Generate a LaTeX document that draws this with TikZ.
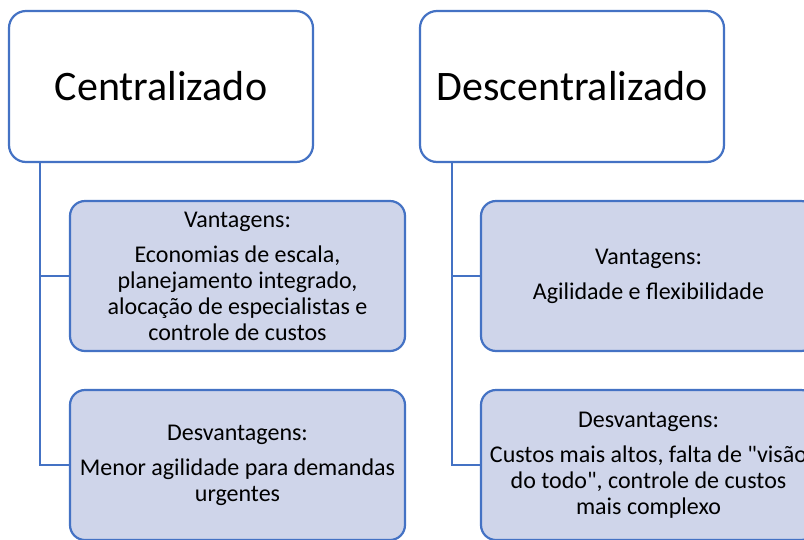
\documentclass[tikz,border=0pt]{standalone}
\usepackage{fontspec}
\setmainfont{Carlito}
\definecolor{boxblue}{RGB}{68,114,196}
\definecolor{boxfill}{RGB}{207,213,234}
\tikzset{
	head/.style={draw=boxblue,line width=2.2pt,rounded corners=17pt,fill=white,minimum width=304pt,minimum height=151pt,font=\fontsize{42}{50}\selectfont},
	item/.style={draw=boxblue,line width=2.2pt,rounded corners=15pt,fill=boxfill,minimum width=335pt,minimum height=150pt,align=center,font=\fontsize{24}{26}\selectfont},
	link/.style={draw=boxblue,line width=2.2pt}
}

\begin{document}
\begin{tikzpicture}[x=1pt,y=-1pt]
		\clip (0,0) rectangle (804,539);
		\fill[white] (0,0) rectangle (804,539);
		\node[head] (cen) at (161,86.5) {Centralizado};
		\node[head] (des) at (572,86.5) {Descentralizado};
		\coordinate (cen-t) at (40,162);
		\coordinate (des-t) at (452,162);
		\node[item] (cenv) at (237.5,276) {Vantagens:\\[9pt]Economias de escala,\\planejamento integrado,\\aloca\c{c}\~ao de especialistas e\\controle de custos};
		\node[item] (cend) at (237.5,465) {Desvantagens:\\[9pt]Menor agilidade para demandas\\urgentes};
		\node[item] (desv) at (648.5,276) {Vantagens:\\[9pt]Agilidade e flexibilidade};
		\node[item] (desd) at (648.5,465) {Desvantagens:\\[9pt]Custos mais altos, falta de \textquotedbl vis\~ao\\do todo\textquotedbl, controle de custos\\mais complexo};
		\draw[link]
		(cen-t) |- (cenv.west)
		(cen-t) |- (cend.west)
		(des-t) |- (desv.west)
		(des-t) |- (desd.west);
	\end{tikzpicture}
\end{document}
